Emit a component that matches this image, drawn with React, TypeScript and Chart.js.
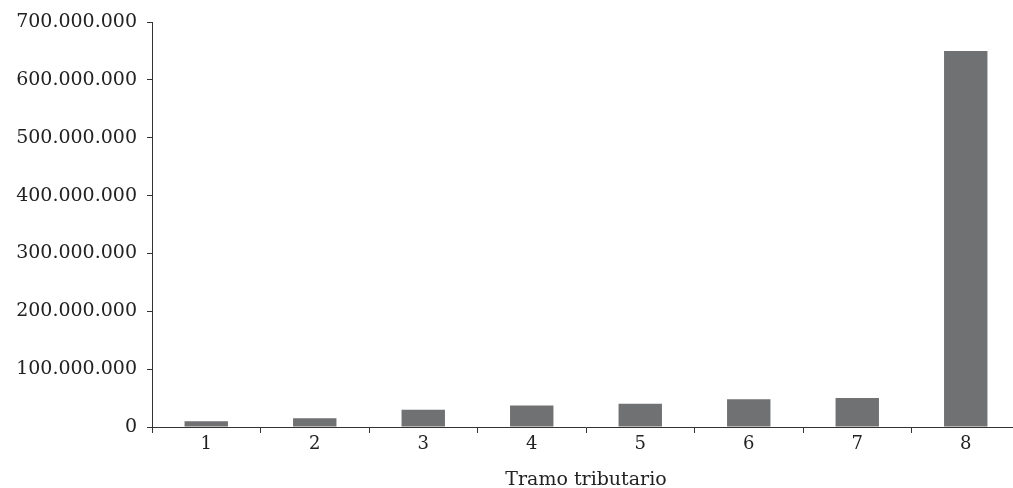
import React, { useEffect, useRef } from "react";
import { Chart, registerables } from "chart.js";

Chart.register(...registerables);

const categories = ["1", "2", "3", "4", "5", "6", "7", "8"];
const values = [10000000, 15000000, 30000000, 37000000, 40000000, 48000000, 50000000, 650000000];
const xTitle = "Tramo tributario";

const fmt = (v: number) => {
  const s = Math.round(v).toString();
  return s.replace(/\B(?=(\d{3})+(?!\d))/g, ".");
};

export default function App() {
  const ref = useRef<HTMLCanvasElement | null>(null);
  useEffect(() => {
    if (!ref.current) return;
    const fam = "'DejaVu Serif', serif";
    const chart = new Chart(ref.current, {
      type: "bar",
      data: {
        labels: categories,
        datasets: [
          {
            data: values,
            backgroundColor: "#707173",
            borderWidth: 0,
            barPercentage: 0.4,
            categoryPercentage: 1,
          },
        ],
      },
      options: {
        animation: false,
        responsive: false,
        maintainAspectRatio: false,
        layout: { padding: { top: 22, left: 0, right: 0, bottom: 0 } },
        plugins: { legend: { display: false }, tooltip: { enabled: false } },
        scales: {
          x: {
            grid: { display: true, drawOnChartArea: false, tickLength: 6, color: "#333", offset: true },
            border: { display: true, color: "#333", width: 1 },
            ticks: { font: { family: fam, size: 18 }, color: "#222", padding: 1 },
            title: { display: true, text: xTitle, font: { family: fam, size: 19 }, color: "#222", padding: { top: 0, bottom: -3 } },
            afterFit: (s: any) => { s.height = 61; },
          },
          y: {
            min: 0,
            max: 700000000,
            grid: { display: true, drawOnChartArea: false, tickLength: 5, color: "#333" },
            border: { display: true, color: "#333", width: 1 },
            ticks: { stepSize: 100000000, font: { family: fam, size: 19 }, color: "#222", padding: 10, callback: (v: any) => fmt(Number(v)) },
            afterFit: (s: any) => { s.width = 152; },
          },
        },
      },
    });
    return () => chart.destroy();
  }, []);
  return (
    <div style={{ position: "fixed", left: 0, top: 0, width: 1020, height: 488 }}>
      <canvas ref={ref} width={1020} height={488} style={{ width: 1020, height: 488, display: "block" }} />
    </div>
  );
}
